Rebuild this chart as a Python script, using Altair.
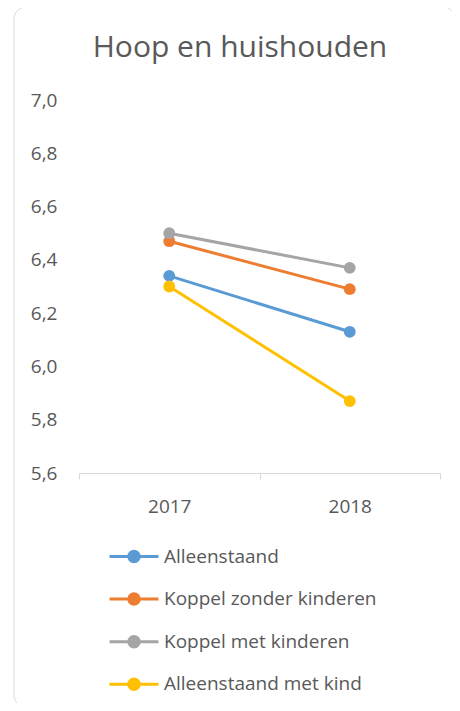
import altair as alt
import pandas as pd

years = ["2017", "2018"]
series = ["Alleenstaand", "Koppel zonder kinderen", "Koppel met kinderen", "Alleenstaand met kind"]
v_alleenstaand = [6.34, 6.13]
v_koppel_zonder = [6.47, 6.29]
v_koppel_met = [6.50, 6.37]
v_alleenstaand_kind = [6.30, 5.87]
colors = ["#5B9BD5", "#ED7D31", "#A5A5A5", "#FFC000"]
y_ticks = [5.6, 5.8, 6.0, 6.2, 6.4, 6.6, 6.8, 7.0]
chart_title = "Hoop en huishouden"

rows = []
for name, vals in zip(series, [v_alleenstaand, v_koppel_zonder, v_koppel_met, v_alleenstaand_kind]):
    for yr, v in zip(years, vals):
        rows.append({"jaar": yr, "reeks": name, "waarde": v})
df = pd.DataFrame(rows)

FONT = "Open Sans"
TXT = "#595959"
FS = 19

x = alt.X(
    "jaar:N", title=None, sort=years,
    scale=alt.Scale(type="band", paddingInner=0, paddingOuter=0),
    bandPosition=0.5,
    axis=alt.Axis(tickBand="extent", labelAngle=0, domainColor="#D9D9D9", tickColor="#D9D9D9",
                  tickSize=6, labelFontSize=FS, labelColor=TXT, labelPadding=18, labelFont=FONT,
                  grid=False),
)
y = alt.Y(
    "waarde:Q", title=None,
    scale=alt.Scale(domain=[5.6, 7.0], nice=False, zero=False),
    axis=alt.Axis(values=y_ticks, format=".1f", labelExpr="replace(datum.label, '.', ',')",
                  domain=False, ticks=False, grid=False, labelPadding=22, labelFontSize=FS,
                  labelColor=TXT, labelFont=FONT),
)
sym = "M-4.9,0H4.9M-1.05,0A1.05,1.05,0,1,1,1.05,0A1.05,1.05,0,1,1,-1.05,0Z"
color = alt.Color(
    "reeks:N", sort=series,
    scale=alt.Scale(domain=series, range=colors),
    legend=alt.Legend(title=None, orient="none", legendX=45.5, legendY=447, direction="vertical",
                      symbolType=sym, symbolSize=100, symbolStrokeWidth=3, labelFontSize=FS,
                      labelColor=TXT, labelFont=FONT, labelOffset=20.5, rowPadding=19.6, padding=0,
                      symbolOpacity=1, labelLimit=320),
)

border = alt.Chart(pd.DataFrame({"k": [0]})).mark_rect(
    cornerRadius=12, fillOpacity=0, stroke="#D9D9D9", strokeWidth=1
).encode(x=alt.value(-65), x2=alt.value(376), y=alt.value(-93), y2=alt.value(607))

base = alt.Chart(df)
line = base.mark_line(strokeWidth=3).encode(x=x, y=y, color=color)
point = base.mark_point(filled=True, size=140, opacity=1).encode(x=x, y=y, color=color)

chart = alt.layer(border, line, point).properties(
    width=361, height=373,
    autosize=alt.AutoSizeParams(type="none"),
    padding={"left": 71, "top": 92, "right": 12, "bottom": 230},
    title=alt.TitleParams(chart_title, fontSize=30, font=FONT, fontWeight="normal", color=TXT,
                          anchor="middle", frame="group", dx=-19.5, offset=-56),
).configure_view(stroke=None)

chart.save("out.html", embed_options={"renderer": "svg", "actions": False})
